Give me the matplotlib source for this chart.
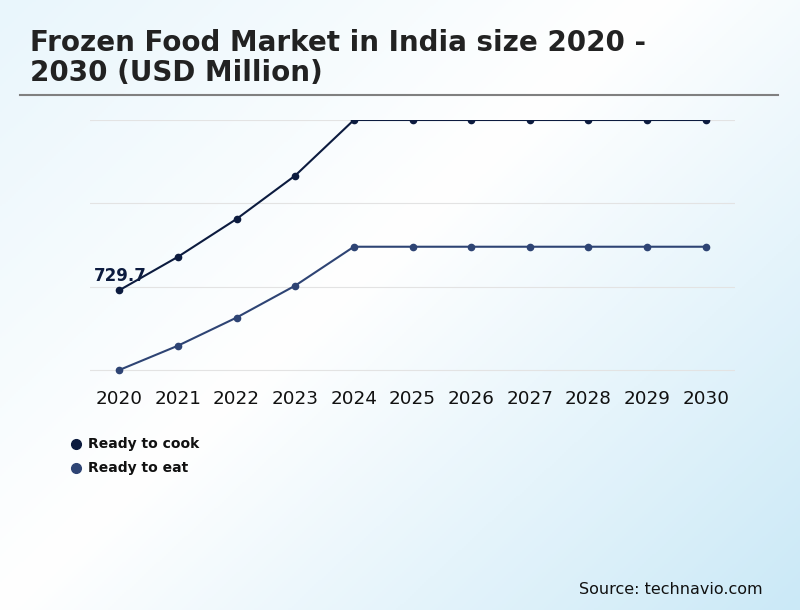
import numpy as np
import matplotlib
matplotlib.use("Agg")
import matplotlib.pyplot as plt
from matplotlib.colors import LinearSegmentedColormap
from matplotlib.lines import Line2D

years = [2020, 2021, 2022, 2023, 2024, 2025, 2026, 2027, 2028, 2029, 2030]
ready_to_cook = [729.7, 826, 935, 1060, 1220, 1220, 1220, 1220, 1220, 1220, 1220]
ready_to_eat = [500, 570, 651, 743, 855, 855, 855, 855, 855, 855, 855]
series_names = ["Ready to cook", "Ready to eat"]
series_colors = ["#0c1b3f", "#2e4474"]
title_lines = ["Frozen Food Market in India size 2020 -", "2030 (USD Million)"]
source_text = "Source: technavio.com"
grid_values = [500, 740, 980, 1220]

W, H = 800, 610
fig = plt.figure(figsize=(W / 100, H / 100), dpi=100)

# background gradient
bg = fig.add_axes([0, 0, 1, 1], zorder=-10)
xx, yy = np.meshgrid(np.linspace(0, 1, 400), np.linspace(0, 1, 305))
t = (xx * 0.55 + yy * 0.45)
cmap = LinearSegmentedColormap.from_list(
    "bg", [(0.0, "#e9f6fc"), (0.45, "#ffffff"), (1.0, "#cbe9f7")])
bg.imshow(t, cmap=cmap, aspect="auto", extent=[0, 1, 0, 1], origin="upper",
          vmin=0, vmax=1)
bg.set_axis_off()

def fx(px):
    return px / W

def fy(py):
    return 1 - py / H

ax_left, ax_right = 90, 735
ax_top = 120
ax_bottom = 380
ax = fig.add_axes([fx(ax_left), fy(ax_bottom), fx(ax_right - ax_left),
                   (ax_bottom - ax_top) / H])
ax.patch.set_alpha(0)

for vals, name, col in zip([ready_to_cook, ready_to_eat], series_names, series_colors):
    ax.plot(years, vals, color=col, lw=1.5, marker="o", markersize=4.5,
            label=name, zorder=3)

ax.set_xlim(2019.5, 2030.5)
px_per_unit = (370 - 120) / (1220 - 500)
ax.set_ylim(500 - (ax_bottom - 370) / px_per_unit, 1220)
ax.set_yticks(grid_values)
ax.set_yticklabels([])
ax.set_xticks(years)
ax.set_xticklabels([str(y) for y in years], fontsize=13.2, color="#111111")
ax.tick_params(axis="both", length=0)
ax.tick_params(axis="x", pad=7)
ax.grid(axis="y", color="#e3e3e3", lw=0.8)
ax.set_axisbelow(True)
for s in ax.spines.values():
    s.set_visible(False)

ax.annotate(f"{ready_to_cook[0]:g}", (years[0], ready_to_cook[0]),
            xytext=(-18, 7), textcoords="offset points", fontsize=12,
            fontweight="bold", color=series_colors[0], va="baseline", ha="left",
            zorder=2)

# title
for i, line in enumerate(title_lines):
    fig.text(fx(30), fy(51 + 30 * i), line, fontsize=20, fontweight="bold",
             family="DejaVu Sans", color="#222222",
             va="baseline", ha="left")

# separator
fig.add_artist(Line2D([fx(20), fx(778)], [fy(95), fy(95)], color="#808080", lw=1.5))

# legend
for i, (name, col) in enumerate(zip(series_names, series_colors)):
    yy_ = 444 + 24 * i
    fig.add_artist(Line2D([fx(76)], [fy(yy_)], marker="o", color=col,
                          markersize=7, ls="none"))
    fig.text(fx(88), fy(yy_), name, fontsize=10, fontweight="bold",
             color="#111111", va="center", ha="left")

fig.text(fx(763), fy(590), source_text, fontsize=11.5, color="#111111",
         va="center", ha="right")

fig.savefig("out.png", dpi=100)
